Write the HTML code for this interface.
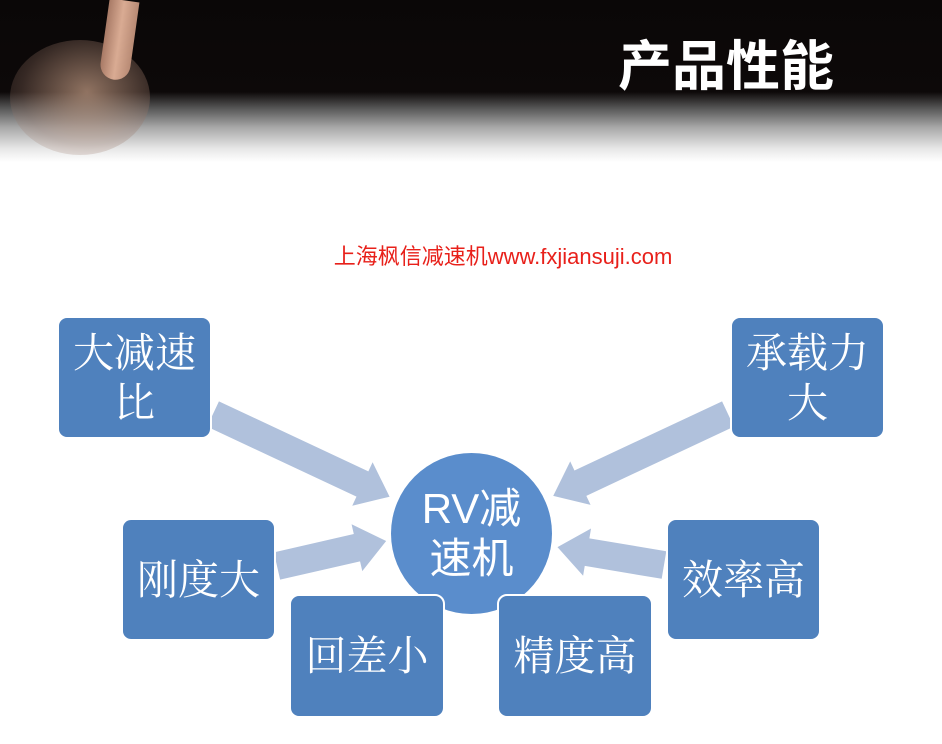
<!DOCTYPE html>
<html><head><meta charset="utf-8"><style>
body{margin:0;width:942px;height:744px;overflow:hidden;background:#fff;position:relative;font-family:"Liberation Sans","Noto Sans CJK SC",sans-serif}
.hdr{position:absolute;left:0;top:0;width:942px;height:165px;background:linear-gradient(#0a0707 0,#0d0909 92px,#555 108px,#aaa 128px,#e6e6e6 148px,#fff 162px)}
.hand{position:absolute;left:10px;top:40px;width:140px;height:115px;border-radius:50%;background:radial-gradient(ellipse at 55% 45%,rgba(200,160,135,.7),rgba(150,115,100,.3) 60%,rgba(0,0,0,0) 100%)}
.finger{position:absolute;left:104px;top:0;width:30px;height:80px;border-radius:0 0 15px 15px;background:linear-gradient(90deg,#a87a66,#d9ab93,#b88a74);transform:rotate(8deg)}
.title{position:absolute;left:618px;top:22px;color:#fff;font-size:54px;font-weight:bold;letter-spacing:0;font-family:"Noto Sans CJK SC",sans-serif}
.red{position:absolute;left:0;width:942px;top:239px;text-align:center;color:#e8201a;font-size:22px;padding-left:64px;box-sizing:border-box}
.box{position:absolute;background:#4f81bd;border:2px solid #fff;border-radius:10px;color:#fff;display:flex;align-items:center;justify-content:center;text-align:center;font-family:"Liberation Serif","Noto Serif CJK SC",serif;font-size:41px;line-height:50px;box-sizing:border-box}
.circ{position:absolute;left:391px;top:453px;width:161px;height:161px;border-radius:50%;background:#5a8dcc;color:#fff;font-size:42px;line-height:50px;display:flex;align-items:center;justify-content:center;text-align:center}
</style></head><body>
<div class="hdr"></div><div class="hand"></div><div class="finger"></div>
<div class="title">产品性能</div>
<div class="red">上海枫信减速机www.fxjiansuji.com</div>
<svg style="position:absolute;left:0;top:0" width="942" height="744">
<g fill="#b0c1dc">
<polygon transform="translate(213,414) rotate(25.1)" points="0,-14 165,-14 165,-24 195,0 165,24 165,14 0,14"/>
<polygon transform="translate(277,566) rotate(-12.9)" points="0,-14 82,-14 82,-24 112,0 82,24 82,14 0,14"/>
<polygon transform="translate(728,414) rotate(154.9)" points="0,-14 163,-14 163,-24 193,0 163,24 163,14 0,14"/>
<polygon transform="translate(664,565) rotate(189.5)" points="0,-14 78,-14 78,-24 108,0 78,24 78,14 0,14"/>
</g></svg>
<div class="circ">RV减<br>速机</div>
<div class="box" style="left:57px;top:316px;width:155px;height:123px">大减速<br>比</div>
<div class="box" style="left:730px;top:316px;width:155px;height:123px">承载力<br>大</div>
<div class="box" style="left:121px;top:518px;width:155px;height:123px">刚度大</div>
<div class="box" style="left:666px;top:518px;width:155px;height:123px">效率高</div>
<div class="box" style="left:289px;top:594px;width:156px;height:124px">回差小</div>
<div class="box" style="left:497px;top:594px;width:156px;height:124px">精度高</div>
</body></html>
